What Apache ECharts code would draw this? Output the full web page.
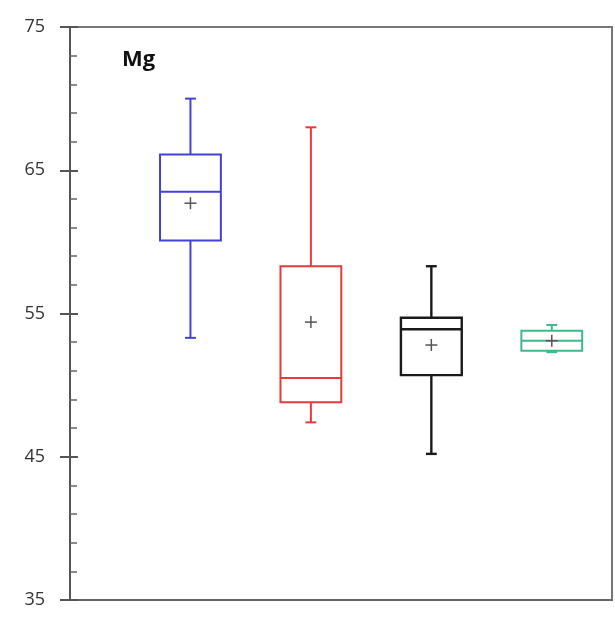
<!DOCTYPE html>
<html>
<head>
<meta charset="utf-8">
<script src="https://cdn.jsdelivr.net/npm/echarts@6/dist/echarts.min.js"></script>
<style>
  html, body { margin: 0; padding: 0; background: #fff; }
  #chart { width: 615px; height: 618px; }
</style>
</head>
<body>
<div id="chart"></div>
<script>
// Group positions along the x axis and their box colours
const positions = [1, 2, 3, 4];
const colors = ['#4242d4', '#e83a3a', '#1a1a1a', '#3fb88a'];

// Five-number summaries and means for Mg
const whiskerLow = [53.3, 47.4, 45.2, 52.3];
const q1 = [60.1, 48.8, 50.7, 52.4];
const median = [63.5, 50.5, 53.9, 53.1];
const q3 = [66.1, 58.3, 54.7, 53.8];
const whiskerHigh = [70.0, 68.0, 58.3, 54.2];
const means = [62.7, 54.4, 52.8, 53.1];

// Y axis ticks
const yTicks = [35, 45, 55, 65, 75];

const rows = positions.map((p, i) => [p, whiskerLow[i], q1[i], median[i], q3[i], whiskerHigh[i], means[i]]);

function renderBox(params, api) {
  const i = params.dataIndex;
  const x = api.value(0);
  const color = colors[i];
  const boxW = api.size([0.505, 0])[0];
  const capW = api.size([0.09, 0])[0];
  const lw = i === 2 ? 2.4 : 2;
  const c = (v) => api.coord([x, v]);
  const pLow = c(api.value(1)), pQ1 = c(api.value(2)), pMed = c(api.value(3));
  const pQ3 = c(api.value(4)), pHigh = c(api.value(5)), pMean = c(api.value(6));
  const cx = pMed[0];
  const style = { stroke: color, lineWidth: lw, fill: null };
  const line = (x1, y1, x2, y2, st) => ({ type: 'line', shape: { x1, y1, x2, y2 }, style: st || style });
  const meanStyle = { stroke: '#555', lineWidth: 1.5 };
  return {
    type: 'group',
    children: [
      line(cx, pHigh[1], cx, pQ3[1]),
      line(cx, pQ1[1], cx, pLow[1]),
      line(cx - capW / 2, pHigh[1], cx + capW / 2, pHigh[1]),
      line(cx - capW / 2, pLow[1], cx + capW / 2, pLow[1]),
      { type: 'rect', shape: { x: cx - boxW / 2, y: pQ3[1], width: boxW, height: pQ1[1] - pQ3[1] }, style: { stroke: color, lineWidth: lw, fill: '#fff' } },
      line(cx - boxW / 2, pMed[1], cx + boxW / 2, pMed[1]),
      line(cx - 6, pMean[1], cx + 6, pMean[1], meanStyle),
      line(cx, pMean[1] - 6, cx, pMean[1] + 6, meanStyle)
    ]
  };
}

const chart = echarts.init(document.getElementById('chart'), null, { renderer: 'canvas' });
chart.setOption({
  animation: false,
  backgroundColor: '#fff',
  grid: { left: 70, right: 3, top: 27, bottom: 18, show: true, borderColor: '#777', borderWidth: 2, backgroundColor: 'transparent' },
  title: {
    text: 'Mg', left: 117, top: 44,
    textStyle: { fontFamily: 'Open Sans', fontWeight: 'bold', fontSize: 22, color: '#111' }
  },
  xAxis: {
    type: 'value', min: 0, max: 4.5,
    axisLine: { show: true, lineStyle: { color: '#666', width: 2 } },
    axisTick: { show: false }, axisLabel: { show: false }, splitLine: { show: false }
  },
  yAxis: [
    {
      type: 'value', min: yTicks[0], max: yTicks[yTicks.length - 1], interval: 10,
      axisLine: { show: true, lineStyle: { color: '#555', width: 2 } },
      axisTick: { show: true, inside: false, length: 10, lineStyle: { color: '#555', width: 2 } },
      axisLabel: { show: true, margin: 25, fontFamily: 'Open Sans', fontSize: 18, color: '#333' },
      splitLine: { show: false }
    },
    {
      type: 'value', min: yTicks[0], max: yTicks[yTicks.length - 1], interval: 10, position: 'left',
      axisLine: { show: false },
      axisTick: { show: true, inside: true, length: 8, lineStyle: { color: '#555', width: 2 } },
      minorTick: { show: true, splitNumber: 5, length: 7, lineStyle: { color: '#666', width: 1.5 } },
      axisLabel: { show: false },
      splitLine: { show: false }
    }
  ],
  series: [{
    type: 'custom',
    renderItem: renderBox,
    data: rows,
    encode: { x: 0, y: [1, 2, 3, 4, 5, 6] },
    z: 5
  }]
});
</script>
</body>
</html>
